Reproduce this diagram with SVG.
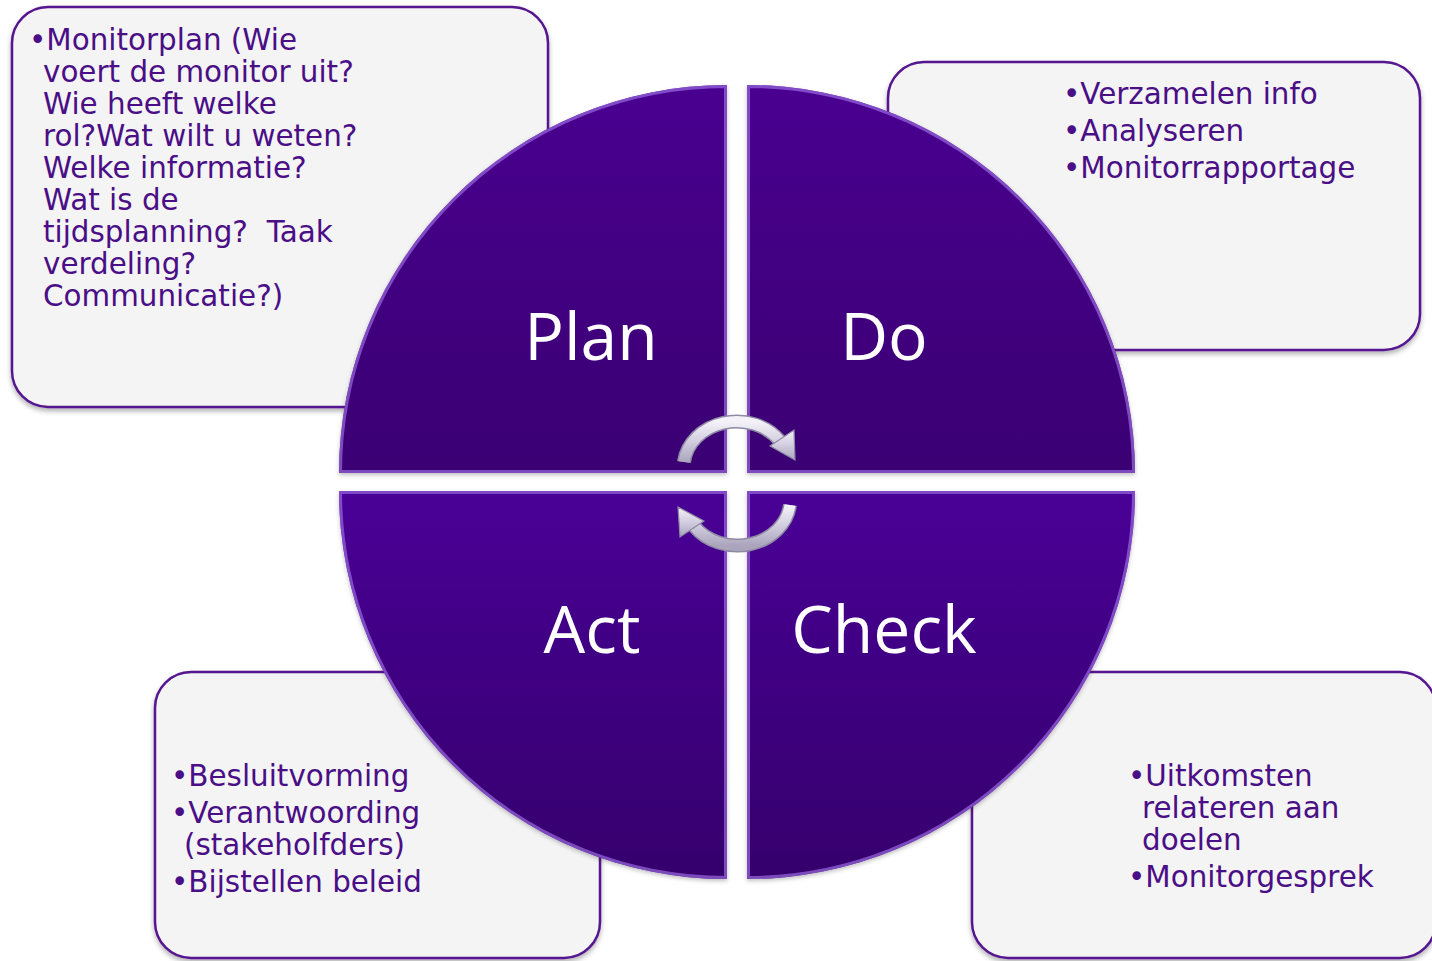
<svg xmlns="http://www.w3.org/2000/svg" width="1432" height="961" viewBox="0 0 1432 961">
<defs>
<style>
.box{fill:#f4f4f4;stroke:#55168f;stroke-width:2.5;filter:url(#sh)}
.bt{font-family:"DejaVu Sans","Verdana",sans-serif;font-size:29.4px;fill:#4a0e86;white-space:pre}
.qt{font-family:"Open Sans","Noto Sans",sans-serif;font-size:66px;fill:#ffffff;text-anchor:middle}
.bev{fill:none;stroke:#9a6ae0;stroke-width:6;opacity:0.7}
.arro{fill:none;stroke:#8e89a4;stroke-width:14}
.arr{fill:none;stroke:url(#silver);stroke-width:11}
.ah{fill:url(#silver);stroke:#8e89a4;stroke-width:1.2}
</style>
<filter id="sh" x="-5%" y="-5%" width="110%" height="115%">
<feDropShadow dx="0" dy="3" stdDeviation="2.5" flood-color="#000" flood-opacity="0.3"/>
</filter>
<filter id="qs" x="-5%" y="-5%" width="110%" height="110%">
<feDropShadow dx="0" dy="2" stdDeviation="2" flood-color="#000" flood-opacity="0.25"/>
</filter>
<linearGradient id="gTop" x1="0" y1="0" x2="0" y2="1">
<stop offset="0" stop-color="#490290"/>
<stop offset="1" stop-color="#3a0072"/>
</linearGradient>
<linearGradient id="gBot" x1="0" y1="0" x2="0" y2="1">
<stop offset="0" stop-color="#490496"/>
<stop offset="1" stop-color="#35006c"/>
</linearGradient>
<linearGradient id="silver" x1="0" y1="0" x2="0" y2="1">
<stop offset="0" stop-color="#f4f2f8"/>
<stop offset="0.5" stop-color="#d2cee0"/>
<stop offset="1" stop-color="#aaa5bc"/>
</linearGradient>
<clipPath id="cPlan"><path d="M727 473 L339 473 A388 388 0 0 1 727 85 Z"/></clipPath>
<clipPath id="cDo"><path d="M747 473 L747 85 A388 388 0 0 1 1135 473 Z"/></clipPath>
<clipPath id="cAct"><path d="M727 491 L727 879 A388 388 0 0 1 339 491 Z"/></clipPath>
<clipPath id="cCheck"><path d="M747 491 L1135 491 A388 388 0 0 1 747 879 Z"/></clipPath>
</defs>
<rect width="1432" height="961" fill="#ffffff"/>

<g id="box-plan">
<rect class="box" x="12" y="7" width="536" height="400" rx="36"/>
<text class="bt"><tspan x="29" y="50">•Monitorplan (Wie</tspan><tspan x="43" y="82">voert de monitor uit?</tspan><tspan x="43" y="114">Wie heeft welke</tspan><tspan x="43" y="146">rol?Wat wilt u weten?</tspan><tspan x="43" y="178">Welke informatie?</tspan><tspan x="43" y="210">Wat is de</tspan><tspan x="43" y="242">tijdsplanning?  Taak</tspan><tspan x="43" y="274">verdeling?</tspan><tspan x="43" y="306">Communicatie?)</tspan></text>
</g>

<g id="box-do">
<rect class="box" x="888" y="62" width="532" height="288" rx="36"/>
<text class="bt"><tspan x="1063" y="104">•Verzamelen info</tspan><tspan x="1063" y="141">•Analyseren</tspan><tspan x="1063" y="178">•Monitorrapportage</tspan></text>
</g>

<g id="box-act">
<rect class="box" x="155" y="672" width="445" height="286" rx="36"/>
<text class="bt"><tspan x="171" y="786">•Besluitvorming</tspan><tspan x="171" y="823">•Verantwoording</tspan><tspan x="184" y="855">(stakeholfders)</tspan><tspan x="171" y="892">•Bijstellen beleid</tspan></text>
</g>

<g id="box-check">
<rect class="box" x="972" y="672" width="464" height="286" rx="36"/>
<text class="bt"><tspan x="1128" y="786">•Uitkomsten</tspan><tspan x="1142" y="818">relateren aan</tspan><tspan x="1142" y="850">doelen</tspan><tspan x="1128" y="887">•Monitorgesprek</tspan></text>
</g>

<g id="q-plan">
<path d="M727 473 L339 473 A388 388 0 0 1 727 85 Z" fill="url(#gTop)" filter="url(#qs)"/>
<path class="bev" clip-path="url(#cPlan)" d="M727 473 L339 473 A388 388 0 0 1 727 85 Z"/>
<text class="qt" x="591" y="360">Plan</text>
</g>
<g id="q-do">
<path d="M747 473 L747 85 A388 388 0 0 1 1135 473 Z" fill="url(#gTop)" filter="url(#qs)"/>
<path class="bev" clip-path="url(#cDo)" d="M747 473 L747 85 A388 388 0 0 1 1135 473 Z"/>
<text class="qt" x="884" y="360">Do</text>
</g>
<g id="q-act">
<path d="M727 491 L727 879 A388 388 0 0 1 339 491 Z" fill="url(#gBot)" filter="url(#qs)"/>
<path class="bev" clip-path="url(#cAct)" d="M727 491 L727 879 A388 388 0 0 1 339 491 Z"/>
<text class="qt" x="592" y="653">Act</text>
</g>
<g id="q-check">
<path d="M747 491 L1135 491 A388 388 0 0 1 747 879 Z" fill="url(#gBot)" filter="url(#qs)"/>
<path class="bev" clip-path="url(#cCheck)" d="M747 491 L1135 491 A388 388 0 0 1 747 879 Z"/>
<text class="qt" x="884" y="653">Check</text>
</g>

<g id="connectors">
<path class="arro" d="M684 462 A53 46 0 0 1 780 441"/>
<path class="arr" d="M684 462 A53 46 0 0 1 780 441"/>
<polygon class="ah" points="795,460 794,430 770,446"/>
<path class="arro" d="M790 505 A53 46 0 0 1 694 526"/>
<path class="arr" d="M790 505 A53 46 0 0 1 694 526"/>
<polygon class="ah" points="678,507 680,537 704,521"/>
</g>
</svg>
